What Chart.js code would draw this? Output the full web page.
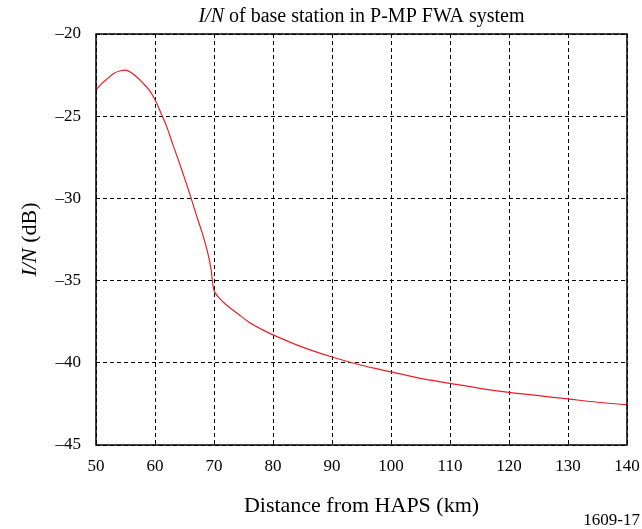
<!DOCTYPE html>
<html>
<head>
<meta charset="utf-8">
<script src="https://cdn.jsdelivr.net/npm/chart.js@4/dist/chart.umd.min.js"></script>
<style>
html,body{margin:0;padding:0;background:#fff;}
#wrap{position:relative;width:642px;height:529px;}
</style>
</head>
<body>
<div id="wrap"><canvas id="c" width="642" height="529"></canvas></div>
<script>
// Distance from HAPS (km)
const distances = [50,51,52,53,54,55,56,57,58,59,60,61,62,63,64,65,66,67,68,69,69.5,70,71,72,74,76,78,80,85,90,95,100,105,110,115,120,125,130,135,140];
// I/N (dB)
const inValues = [-23.4,-23.0,-22.7,-22.4,-22.25,-22.2,-22.35,-22.65,-23.0,-23.4,-24.0,-24.8,-25.65,-26.7,-27.7,-28.75,-29.85,-31.0,-32.1,-33.4,-34.3,-35.6,-36.1,-36.45,-37.0,-37.55,-37.95,-38.3,-39.05,-39.65,-40.15,-40.55,-40.95,-41.25,-41.55,-41.8,-42.0,-42.2,-42.4,-42.55];
const xTicks = [50,60,70,80,90,100,110,120,130,140];
const yTicks = [-20,-25,-30,-35,-40,-45];

const FONT = "'Liberation Serif','Times New Roman',serif";

const textPlugin = {
  id: 'texts',
  afterDraw(chart) {
    const ctx = chart.ctx;
    const a = chart.chartArea;
    ctx.save();
    ctx.strokeStyle = '#000';
    ctx.lineWidth = 1.5;
    ctx.setLineDash([]);
    ctx.strokeRect(a.left, a.top, a.right - a.left, a.bottom - a.top);
    ctx.fillStyle = '#000';
    ctx.textBaseline = 'alphabetic';
    function mixed(parts, cx, cy) {
      let w = 0;
      parts.forEach(p => { ctx.font = p[1]; w += ctx.measureText(p[0]).width; });
      let x = cx - w / 2;
      ctx.textAlign = 'left';
      parts.forEach(p => { ctx.font = p[1]; ctx.fillText(p[0], x, cy); x += ctx.measureText(p[0]).width; });
    }
    const cx = (a.left + a.right) / 2;
    mixed([["I/N", "italic 20px " + FONT], [" of base station in P-MP FWA system", "20px " + FONT]], cx, 22);
    ctx.font = "22px " + FONT;
    ctx.textAlign = 'center';
    ctx.fillText("Distance from HAPS (km)", cx, 512);
    ctx.font = "17px " + FONT;
    ctx.textAlign = 'right';
    ctx.fillText("1609-17", 640, 525);
    ctx.save();
    ctx.translate(36, (a.top + a.bottom) / 2);
    ctx.rotate(-Math.PI / 2);
    mixed([["I/N", "italic 22px " + FONT], [" (dB)", "22px " + FONT]], 0, 0);
    ctx.restore();
    ctx.restore();
  }
};

new Chart(document.getElementById('c'), {
  type: 'line',
  data: {
    datasets: [{
      data: distances.map((d, i) => ({x: d, y: inValues[i]})),
      borderColor: '#e8202a',
      borderWidth: 1.2,
      pointRadius: 0,
      tension: 0.3,
      fill: false
    }]
  },
  options: {
    responsive: false,
    animation: false,
    devicePixelRatio: 1,
    layout: { padding: { left: 0, top: 34, right: 15, bottom: 0 } },
    plugins: { legend: { display: false }, tooltip: { enabled: false } },
    scales: {
      x: {
        type: 'linear', min: 50, max: 140,
        afterBuildTicks: s => { s.ticks = xTicks.map(v => ({value: v})); },
        afterFit: s => { s.height = 84; s.paddingLeft = 0; s.paddingRight = 0; },
        grid: { color: '#000', lineWidth: 1, drawTicks: false },
        border: { display: false, dash: [4, 3] },
        ticks: { color: '#000', font: { family: FONT, size: 17 }, padding: 11, maxRotation: 0 }
      },
      y: {
        type: 'linear', min: -45, max: -20,
        afterBuildTicks: s => { s.ticks = yTicks.map(v => ({value: v})); },
        afterFit: s => { s.width = 96; s.paddingTop = 0; s.paddingBottom = 0; },
        grid: { color: '#000', lineWidth: 1, drawTicks: false },
        border: { display: false, dash: [4, 3] },
        ticks: { color: '#000', font: { family: FONT, size: 17 }, padding: 15,
          callback: v => String(v).replace('-', '\u2013') }
      }
    }
  },
  plugins: [textPlugin]
});
</script>
</body>
</html>
